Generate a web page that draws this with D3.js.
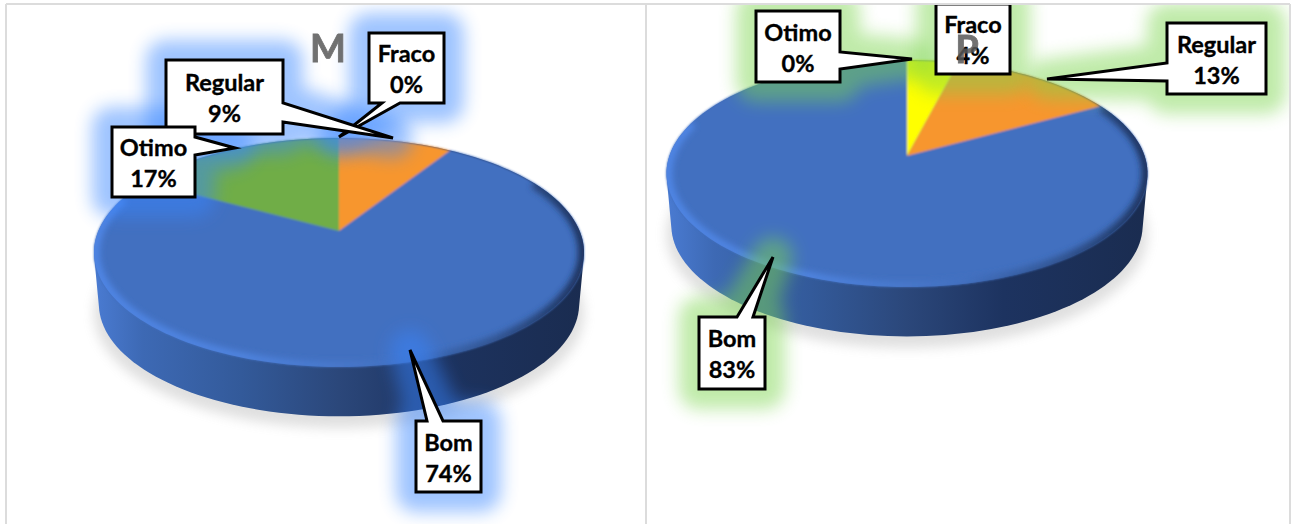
<!DOCTYPE html>
<html>
<head>
<meta charset="utf-8">
<script src="https://cdn.jsdelivr.net/npm/d3@7"></script>
<style>
  html, body { margin: 0; padding: 0; background: #fff; overflow: hidden; }
  text { font-family: Lato, "Open Sans", sans-serif; font-weight: 700; }
</style>
</head>
<body>
<svg id="chart" width="1297" height="524"></svg>
<script>
// values
const categories = ['Fraco', 'Regular', 'Bom', 'Otimo']
const valuesM = [0, 9, 74, 17]
const valuesP = [4, 13, 83, 0]
const sliceColors = ['#ffff00', '#f7962f', '#4270c0', '#70ad47']

const svg = d3.select('#chart')
const defs = svg.append('defs')

// filter region is the whole page, small shapes get cut off otherwise
const blur = (id, dev) => defs.append('filter').attr('id', id)
  .attr('filterUnits', 'userSpaceOnUse')
  .attr('x', 0).attr('y', 0).attr('width', 1297).attr('height', 524)
  .append('feGaussianBlur').attr('stdDeviation', dev)
blur('glowBlur', 8.5)
blur('shadowBlur', 6)
blur('rimBlur', 3)
blur('edgeBlur', 1)

// the table lines behind the two charts
const frame = svg.append('g').attr('stroke', '#dcdcdc').attr('stroke-width', 2)
frame.append('line').attr('x1', 6).attr('x2', 1290).attr('y1', 4).attr('y2', 4)
frame.append('line').attr('x1', 6).attr('x2', 6).attr('y1', 4).attr('y2', 524)
frame.append('line').attr('x1', 646).attr('x2', 646).attr('y1', 4).attr('y2', 524)
frame.append('line').attr('x1', 1290).attr('x2', 1290).attr('y1', 4).attr('y2', 524)

const pie = d3.pie().sort(null).value(d => d)
const line = d3.line().curve(d3.curveLinearClosed)
const openLine = d3.line()

function drawPie(id, values, o) {
  // tilted circle: the centre of the pie is not the centre of the ellipse
  const k = (o.near - o.far) / (o.near + o.far)
  const H = o.far * (1 + k)
  const R = o.rx * Math.sqrt(1 - k * k)
  const project = (a, s = 1, dy = 0) => {
    const w = 1 + k * Math.cos(a)
    return [o.cx + s * R * Math.sin(a) / w, o.cy - s * H * Math.cos(a) / w + dy]
  }
  const angles = d3.range(0, 361, 2).map(d => d * Math.PI / 180)
  const topRing = angles.map(a => project(a))
  const lowRing = angles.map(a => project(a, 0.98, o.depth))
  const body = d3.polygonHull(topRing.concat(lowRing))

  const g = svg.append('g').attr('clip-path', `url(#clip${id})`)
  defs.append('clipPath').attr('id', 'clip' + id)
    .append('rect').attr('x', o.panel[0]).attr('y', 5)
    .attr('width', o.panel[1] - o.panel[0]).attr('height', 519)
  defs.append('clipPath').attr('id', 'face' + id).append('path').attr('d', line(topRing))

  // soft floor shadow
  g.append('path')
    .attr('d', line(d3.polygonHull(angles.map(a => project(a, 1.0, o.depth + 9)))))
    .attr('fill', '#8c8c8c').attr('opacity', 0.27).attr('filter', 'url(#shadowBlur)')

  // side wall
  const side = defs.append('linearGradient').attr('id', 'side' + id)
    .attr('gradientUnits', 'userSpaceOnUse')
    .attr('x1', o.cx - o.rx).attr('x2', o.cx + o.rx).attr('y1', 0).attr('y2', 0)
  ;[[0, '#4a7bd2'], [0.1, '#3d69b4'], [0.3, '#335a9a'], [0.5, '#2b477a'], [0.7, '#1d3360'], [1, '#1a2c50']]
    .forEach(d => side.append('stop').attr('offset', d[0]).attr('stop-color', d[1]))
  g.append('path').attr('d', line(body)).attr('fill', `url(#side${id})`)

  // top face, slices from d3.pie
  const face = g.append('g').attr('filter', 'url(#edgeBlur)')
  face.append('path').attr('d', line(topRing)).attr('fill', sliceColors[2])
  const arcs = pie(values)
  face.selectAll('path.slice').data(arcs.filter(d => d.value > 0)).join('path')
    .attr('class', 'slice')
    .attr('fill', d => sliceColors[d.index])
    .attr('d', d => {
      const n = Math.max(2, Math.ceil((d.endAngle - d.startAngle) / 0.02))
      const pts = d3.range(n + 1).map(i => project(d.startAngle + (d.endAngle - d.startAngle) * i / n))
      return line([[o.cx, o.cy]].concat(pts))
    })

  // bevel on the front edge, light on the left, dark on the right
  const rim = defs.append('linearGradient').attr('id', 'rim' + id)
    .attr('gradientUnits', 'userSpaceOnUse')
    .attr('x1', o.cx - o.rx).attr('x2', o.cx + o.rx).attr('y1', 0).attr('y2', 0)
  ;[[0, '#4f86e6'], [0.3, '#4f84e0'], [0.5, '#4878cc'], [0.62, '#4270c0'], [0.82, '#30538f'], [1, '#1b2f58']]
    .forEach(d => rim.append('stop').attr('offset', d[0]).attr('stop-color', d[1]))
  const rimRing = d3.range(62, 289, 2).map(d => project(d * Math.PI / 180, 0.995))
  g.append('g').attr('clip-path', `url(#face${id})`)
    .append('path').attr('d', openLine(rimRing)).attr('fill', 'none')
    .attr('stroke', `url(#rim${id})`).attr('stroke-width', 9)
    .attr('filter', 'url(#rimBlur)')

  // callouts: glow goes down first so that the white boxes stay clean
  const shapes = o.labels.map(calloutPoints)
  g.append('g').selectAll('path').data(shapes).join('path')
    .attr('d', d => line(d))
    .attr('fill', o.glow).attr('stroke', o.glow).attr('stroke-width', 40)
    .attr('stroke-linejoin', 'round').attr('opacity', 0.48)
    .attr('filter', 'url(#glowBlur)')

  arcs.forEach(d => {
    const l = o.labels.find(e => e.name === categories[d.index])
    l.text = `${Math.round(d.value)}%`
  })

  o.labels.forEach((l, i) => {
    g.append('path').attr('d', line(shapes[i]))
      .attr('fill', '#fff').attr('stroke', '#000').attr('stroke-width', 3)
      .attr('stroke-linejoin', 'miter').attr('stroke-miterlimit', 6)
    const mx = (l.x0 + l.x1) / 2
    const my = (l.y0 + l.y1) / 2
    ;[[l.name, my - 6], [l.text, my + 25]].forEach(t => {
      g.append('text').attr('x', mx).attr('y', t[1]).attr('text-anchor', 'middle')
        .attr('font-size', 23.5).attr('fill', '#000')
        .attr('stroke', '#000').attr('stroke-width', 0.35).text(t[0])
    })
  })

  g.append('text').attr('x', o.title[1]).attr('y', o.title[2]).attr('text-anchor', 'middle')
    .attr('font-size', 38).attr('fill', '#595959').attr('stroke', '#595959').attr('stroke-width', 0.8)
    .attr('opacity', 0.85).text(o.title[0])
}

// box outline with its pointer, walked clockwise
function calloutPoints(l) {
  const pts = [[l.x0, l.y0]]
  const tip = l.tip
  if (l.side === 'top') pts.push([l.a, l.y0], tip, [l.b, l.y0])
  pts.push([l.x1, l.y0])
  if (l.side === 'right') pts.push([l.x1, l.a], tip, [l.x1, l.b])
  pts.push([l.x1, l.y1])
  if (l.side === 'bottom') pts.push([l.b, l.y1], tip, [l.a, l.y1])
  pts.push([l.x0, l.y1])
  if (l.side === 'left') pts.push([l.x0, l.a], tip, [l.x0, l.b])
  return pts
}

drawPie('M', valuesM, {
  cx: 339, cy: 231, far: 93, near: 136, rx: 245, depth: 52,
  panel: [7, 645], glow: '#3985ff', title: ['M', 328, 62],
  labels: [
    {name: 'Fraco', x0: 369, x1: 444, y0: 33, y1: 103, side: 'bottom', a: 382, b: 400, tip: [339, 137]},
    {name: 'Regular', x0: 166, x1: 283, y0: 60, y1: 134, side: 'right', a: 103, b: 122, tip: [393, 138]},
    {name: 'Otimo', x0: 112, x1: 195, y0: 127, y1: 197, side: 'right', a: 137, b: 155, tip: [235, 148]},
    {name: 'Bom', x0: 416, x1: 481, y0: 421, y1: 492, side: 'top', a: 427, b: 443, tip: [410, 350]}
  ]
})

drawPie('P', valuesP, {
  cx: 907, cy: 156, far: 96, near: 131, rx: 240.5, depth: 52,
  panel: [647, 1289], glow: '#7bd54d', title: ['P', 967, 63],
  labels: [
    {name: 'Otimo', x0: 756, x1: 840, y0: 11, y1: 82, side: 'right', a: 52, b: 69, tip: [912, 59]},
    {name: 'Fraco', x0: 936, x1: 1010, y0: 4, y1: 74, side: 'none'},
    {name: 'Regular', x0: 1167, x1: 1266, y0: 23, y1: 94, side: 'left', a: 81, b: 63, tip: [1047, 79]},
    {name: 'Bom', x0: 699, x1: 765, y0: 317, y1: 389, side: 'top', a: 737, b: 753, tip: [773, 257]}
  ]
})
</script>
</body>
</html>
